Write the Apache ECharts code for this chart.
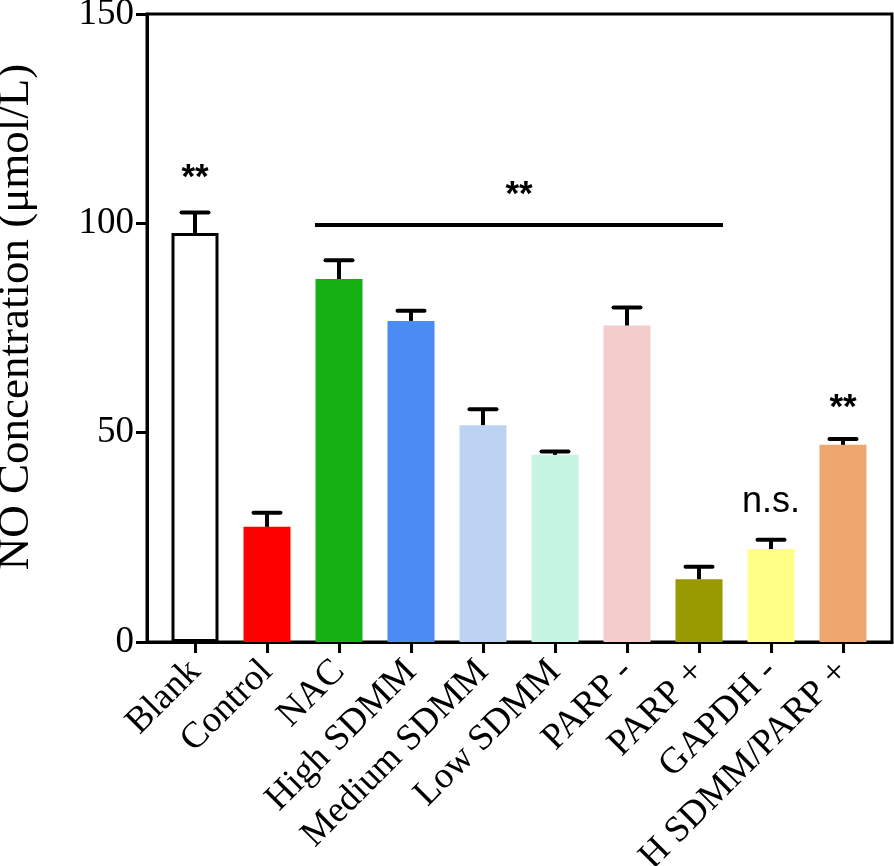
<!DOCTYPE html>
<html><head><meta charset="utf-8">
<script src="https://cdn.jsdelivr.net/npm/echarts@6/dist/echarts.min.js"></script>
<style>html,body{margin:0;padding:0;background:#fff}#c{width:894px;height:866px}</style>
</head><body><div id="c"></div>
<script>
const categories = ['Blank','Control','NAC','High SDMM','Medium SDMM','Low SDMM','PARP -','PARP +','GAPDH -','H SDMM/PARP +'];
const means = [97.7, 27.5, 86.7, 76.7, 51.8, 44.7, 75.6, 15.0, 22.2, 47.1];
const errors = [4.9, 3.4, 4.5, 2.4, 3.8, 0.8, 4.3, 3.0, 2.2, 1.4];
const barColors = ['#ffffff','#ff0000','#14b014','#4b8bf4','#bcd3f2','#c6f5e4','#f3cccc','#999900','#ffff88','#eea66f'];
const yTicks = [0, 50, 100, 150];
// annotations: [x (category index), y value, text]
const annotations = [[0, 110.8, '**'], [4.5, 106.8, '**'], [8, 33.5, 'n.s.'], [9, 55.9, '**']];
// significance bracket: from category index, to category index, y value
const sigLine = [2, 7, 99.6];

const serif = '"Liberation Serif","Times New Roman",serif';
const sans = '"Liberation Sans",Arial,sans-serif';
const chart = echarts.init(document.getElementById('c'), null, {renderer:'canvas'});
const idx = categories.map((_, i) => i);
const halfBar = 0.3333;

chart.setOption({
  animation: false,
  grid: {left: 147, right: 2, top: 14, bottom: 224, containLabel: false, outerBoundsMode: 'none',
    show: true, borderColor: '#000', borderWidth: 3, backgroundColor: 'transparent'},
  xAxis: {
    type: 'value', min: -0.6667, max: 9.6806,
    splitLine: {show: false},
    axisLine: {show: true, onZero: false, lineStyle: {color: '#000', width: 3}},
    axisTick: {show: true, customValues: idx, length: 11, lineStyle: {color: '#000', width: 3}},
    axisLabel: {show: true, customValues: idx, rotate: 45, margin: 24, color: '#000',
      fontFamily: serif, fontSize: 37, formatter: v => categories[Math.round(v)]}
  },
  yAxis: {
    type: 'value', min: 0, max: 150, interval: 50,
    splitLine: {show: false},
    axisLine: {show: true, onZero: false, lineStyle: {color: '#000', width: 3}},
    axisTick: {show: true, length: 11, lineStyle: {color: '#000', width: 3}},
    axisLabel: {color: '#000', fontFamily: serif, fontSize: 37, margin: 13,
      formatter: v => yTicks.includes(v) ? String(v) : ''},
    name: 'NO Concentration (μmol/L)', nameLocation: 'middle', nameGap: 108, nameRotate: 90,
    nameTextStyle: {color: '#000', fontFamily: serif, fontSize: 45, padding: [0, 0, 0, 22]}
  },
  series: [
    {
      type: 'bar', barWidth: 47,
      data: means.map((m, i) => ({
        value: [i, m],
        itemStyle: {color: barColors[i], borderColor: i === 0 ? '#000' : barColors[i], borderWidth: i === 0 ? 3 : 0}
      })),
      markLine: {
        silent: true, symbol: ['none','none'],
        lineStyle: {color: '#000', width: 4, type: 'solid'},
        label: {show: false},
        data: [[{coord: [sigLine[0] - halfBar, sigLine[2]]}, {coord: [sigLine[1] + halfBar, sigLine[2]]}]]
      }
    },
    {
      type: 'custom', z: 5,
      data: means.map((m, i) => [i, m, m + errors[i]]),
      renderItem: (params, api) => {
        const base = api.coord([api.value(0), api.value(1)]);
        const top = api.coord([api.value(0), api.value(2)]);
        const cap = 13.5;
        return {type: 'group', children: [
          {type: 'line', shape: {x1: base[0], y1: base[1], x2: top[0], y2: top[1]}, style: {stroke: '#000', lineWidth: 4}},
          {type: 'line', shape: {x1: top[0] - cap, y1: top[1], x2: top[0] + cap, y2: top[1]}, style: {stroke: '#000', lineWidth: 4, lineCap: 'round'}}
        ]};
      }
    },
    {
      type: 'custom', z: 6,
      data: annotations,
      renderItem: (params, api) => {
        const p = api.coord([api.value(0), api.value(1)]);
        const t = annotations[params.dataIndex][2];
        const star = t === '**';
        return {type: 'text', x: p[0], y: p[1], style: {
          text: t, align: 'center', verticalAlign: 'middle', fill: '#000',
          font: (star ? 'bold 35px ' : '36px ') + sans
        }};
      }
    }
  ]
});
</script></body></html>
